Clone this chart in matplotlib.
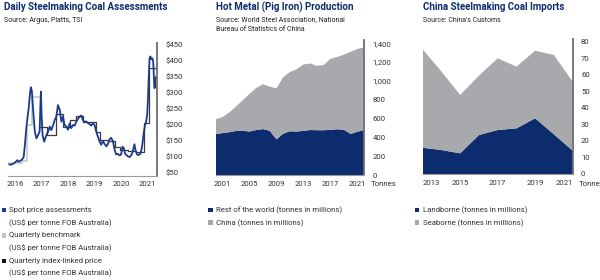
import matplotlib
matplotlib.use("Agg")
import matplotlib.pyplot as plt
from matplotlib.patches import Rectangle
from matplotlib.ticker import FuncFormatter

plt.rcParams['font.family'] = ['Roboto', 'DejaVu Sans']

NAVY = "#0c2c6e"
SPOT = "#1b3a8c"
GREY_AREA = "#a7a9ac"
LIGHT_STEP = "#c4c4c4"
DARK_STEP = "#3a3a3a"
TXT = "#333333"

# --- Daily steelmaking coal assessments (US$/t FOB Australia) ---
spot_years = [
    2015.79, 2015.85, 2015.94, 2016.02, 2016.09, 2016.14, 2016.2, 2016.27,
    2016.33, 2016.375, 2016.44, 2016.52, 2016.57, 2016.6, 2016.64, 2016.69,
    2016.75, 2016.81, 2016.87, 2016.93, 2016.96, 2016.98, 2017.0, 2017.04,
    2017.1, 2017.15, 2017.19, 2017.25, 2017.31, 2017.37, 2017.44, 2017.5,
    2017.56, 2017.62, 2017.69, 2017.75, 2017.81, 2017.87, 2017.94, 2018.0,
    2018.06, 2018.12, 2018.19, 2018.25, 2018.31, 2018.38, 2018.44, 2018.5,
    2018.56, 2018.62, 2018.69, 2018.75, 2018.81, 2018.87, 2018.94, 2019.0,
    2019.06, 2019.12, 2019.19, 2019.25, 2019.31, 2019.37, 2019.44, 2019.5,
    2019.56, 2019.62, 2019.69, 2019.75, 2019.81, 2019.87, 2019.94, 2020.0,
    2020.05, 2020.1, 2020.15, 2020.2, 2020.27, 2020.33, 2020.4, 2020.46,
    2020.5, 2020.55, 2020.6, 2020.66, 2020.72, 2020.76, 2020.8, 2020.85,
    2020.9, 2020.94, 2020.98, 2021.01, 2021.04, 2021.07, 2021.1, 2021.14,
    2021.18, 2021.21, 2021.24, 2021.26, 2021.29, 2021.32,
]
spot_price = [
    77, 76, 79, 84, 90, 85, 88, 92,
    100, 137, 200, 253, 300, 318, 305, 242,
    179, 158, 168, 180, 260, 304, 242, 169,
    148, 160, 169, 179, 195, 184, 200, 216,
    226, 262, 247, 210, 226, 200, 195, 185,
    205, 190, 200, 198, 210, 220, 226, 230,
    215, 210, 211, 206, 203, 198, 205, 200,
    180, 165, 148, 138, 150, 142, 133, 140,
    155, 160, 150, 125, 108, 110, 105, 108,
    132, 128, 110, 106, 101, 100, 108, 125,
    140, 118, 108, 106, 110, 120, 140, 175,
    200, 210, 232, 279, 350, 408, 414, 405,
    408, 395, 336, 315, 346, 350,
]

bench_years = [2015.79, 2016.25, 2016.47, 2016.64, 2016.96]
bench_price = [81, 88, 200, 288, 288]

index_years = [2016.96, 2017.19, 2017.56, 2017.81, 2018.06, 2018.31, 2018.56,
               2018.81, 2019.06, 2019.19, 2019.5, 2019.75, 2019.94, 2020.25,
               2020.56, 2020.85, 2021.06, 2021.32]
index_price = [195, 169, 233, 195, 216, 227, 210, 210, 179, 153, 150, 132,
               122, 118, 117, 205, 378, 378]

price_ticks = [50, 100, 150, 200, 250, 300, 350, 400, 450]
price_year_ticks = [2016, 2017, 2018, 2019, 2020, 2021]

# --- Hot metal (pig iron) production, tonnes in millions ---
hm_years = list(range(2000, 2023))
hm_rest_of_world = [436, 445, 455, 468, 470, 462, 478, 488, 470, 379, 440, 465,
                    462, 470, 478, 476, 476, 480, 486, 480, 436, 460, 478]
hm_china = [156, 170, 210, 259, 325, 400, 447, 477, 470, 541, 600, 630,
            663, 705, 707, 684, 694, 755, 769, 800, 874, 880, 879]
hm_ticks = [0, 200, 400, 600, 800, 1000, 1200, 1400]
hm_year_ticks = [2001, 2005, 2009, 2013, 2017, 2021]

# --- China steelmaking coal imports, tonnes in millions ---
ci_years = list(range(2013, 2022))
ci_landborne = [15.9, 14.5, 12.5, 23.6, 26.6, 27.6, 33.7, 24.0, 14.1]
ci_seaborne = [59.5, 47.5, 35.3, 35.9, 43.4, 37.4, 40.9, 48.0, 41.7]
ci_ticks = [0, 10, 20, 30, 40, 50, 60, 70, 80]
ci_year_ticks = [2013, 2015, 2017, 2019, 2021]

W, H = 600, 280
fig = plt.figure(figsize=(6, 2.8), dpi=100, facecolor="white")


def fx(x):
    return x / W


def fy(y):
    return 1 - y / H


def make_axes(x0, x1, y0, y1):
    ax = fig.add_axes([fx(x0), fy(y1), (x1 - x0) / W, (y1 - y0) / H])
    for s in ("left", "top"):
        ax.spines[s].set_visible(False)
    ax.spines["right"].set_color("#6d6e71")
    ax.spines["right"].set_linewidth(1.3)
    ax.spines["bottom"].set_color("#9a9a9a")
    ax.spines["bottom"].set_linewidth(0.8)
    ax.yaxis.tick_right()
    ax.tick_params(axis="both", length=0, labelsize=5.6, labelcolor=TXT)
    ax.tick_params(axis="y", pad=6)
    ax.tick_params(axis="x", pad=4)
    ax.set_facecolor("none")
    return ax


def heading(x, y, title, source_lines):
    fig.text(fx(x), fy(y), title, fontsize=7, fontweight="bold",
             color=NAVY, va="center", ha="left")
    for i, line in enumerate(source_lines):
        fig.text(fx(x), fy(y + 12.5 + i * 9.5), line, fontsize=5,
                 color="#222222", va="center", ha="left")


def legend(x, y, items, step=12.7):
    row = 0
    for color, lines in items:
        fig.add_artist(Rectangle((fx(x), fy(y + row * step + 2.2)),
                                 4.5 / W, 4.5 / H, transform=fig.transFigure,
                                 facecolor=color, edgecolor="none"))
        for line in lines:
            fig.text(fx(x + 7.5), fy(y + row * step), line, fontsize=5.6,
                     color=TXT, va="center", ha="left")
            row += 1


# Panel 1
ax1 = make_axes(8, 157, 42.7, 175.7)
ax1.step(bench_years, bench_price, where="post", color=LIGHT_STEP, lw=1.1)
ax1.step(index_years, index_price, where="post", color=DARK_STEP, lw=0.9)
ax1.plot(spot_years, spot_price, color=SPOT, lw=1.3)
ax1.set_xlim(2015.74, 2021.35)
ax1.set_ylim(41.6, 457)
ax1.set_yticks(price_ticks)
ax1.yaxis.set_major_formatter(FuncFormatter(lambda v, p: f"${v:.0f}"))
ax1.set_xticks(price_year_ticks)
heading(4, 7.5, "Daily Steelmaking Coal Assessments", ["Source: Argus, Platts, TSI"])
legend(1.5, 210, [
    (SPOT, ["Spot price assessments", "(US$ per tonne FOB Australia)"]),
    (LIGHT_STEP, ["Quarterly benchmark", "(US$ per tonne FOB Australia)"]),
    ("#111111", ["Quarterly index-linked price", "(US$ per tonne FOB Australia)"]),
])

# Panel 2
ax2 = make_axes(215.7, 364.3, 40, 175)
ax2.stackplot(hm_years, hm_rest_of_world, hm_china,
              colors=[NAVY, GREY_AREA], linewidth=0)
ax2.set_xlim(2000, 2022)
ax2.set_ylim(0, 1435)
ax2.set_yticks(hm_ticks)
ax2.yaxis.set_major_formatter(FuncFormatter(lambda v, p: f"{v:,.0f}"))
ax2.set_xticks(hm_year_ticks)
fig.text(fx(371), fy(183.5), "Tonnes", fontsize=5.6, color=TXT,
         va="center", ha="left")
heading(216, 7.5, "Hot Metal (Pig Iron) Production",
        ["Source: World Steel Association, National",
         "Bureau of Statistics of China"])
legend(208, 210, [
    (NAVY, ["Rest of the world (tonnes in millions)"]),
    (GREY_AREA, ["China (tonnes in millions)"]),
])

# Panel 3
ax3 = make_axes(422.7, 572.7, 39.3, 174)
ax3.stackplot(ci_years, ci_landborne, ci_seaborne,
              colors=[NAVY, GREY_AREA], linewidth=0)
ax3.set_xlim(2013, 2021)
ax3.set_ylim(0, 81.5)
ax3.set_yticks(ci_ticks)
ax3.set_xticks(ci_year_ticks)
labels3 = ax3.get_xticklabels()
labels3[0].set_ha("left")
labels3[-1].set_ha("right")
fig.text(fx(579), fy(183.5), "Tonnes", fontsize=5.6, color=TXT,
         va="center", ha="left")
heading(423, 7.5, "China Steelmaking Coal Imports", ["Source: China's Customs"])
legend(415, 210, [
    (NAVY, ["Landborne (tonnes in millions)"]),
    (GREY_AREA, ["Seaborne (tonnes in millions)"]),
])

fig.savefig("out.png", dpi=100, facecolor="white")
